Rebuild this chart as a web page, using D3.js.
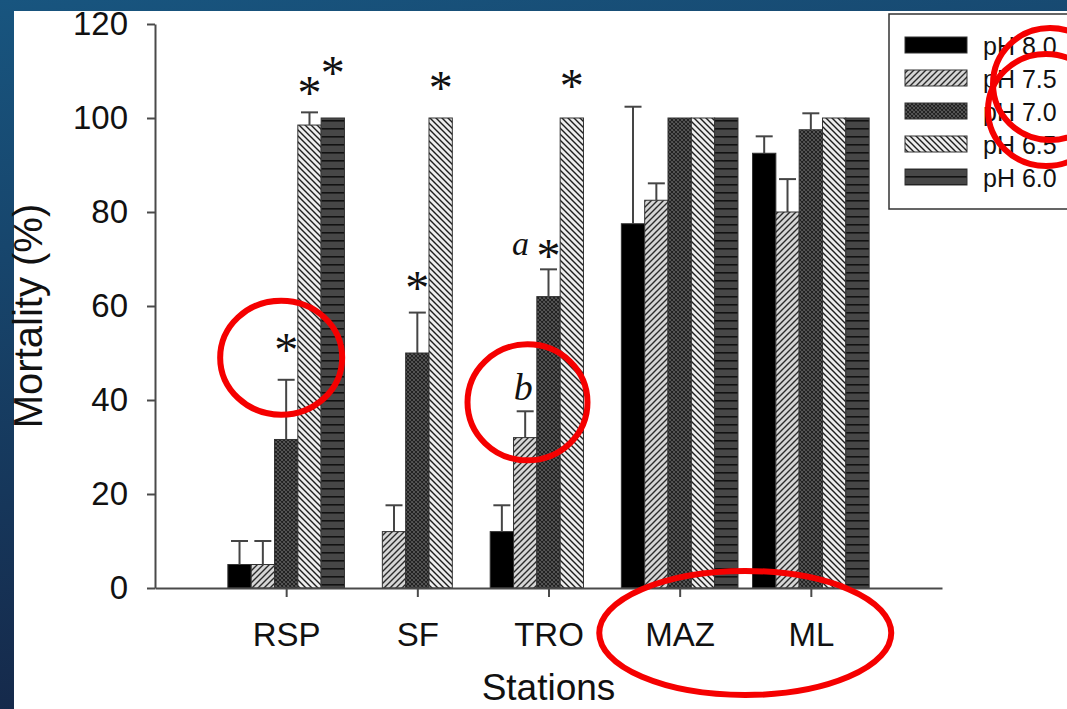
<!DOCTYPE html>
<html>
<head>
<meta charset="utf-8">
<script src="https://cdn.jsdelivr.net/npm/d3@7"></script>
<style>
  html, body { margin: 0; padding: 0; background: #ffffff; }
  svg { display: block; }
</style>
</head>
<body>
<svg id="chart" width="1067" height="709"></svg>
<script>
// Stations sampled and pH treatments
const stations = ["RSP", "SF", "TRO", "MAZ", "ML"];
const phLevels = ["pH 8.0", "pH 7.5", "pH 7.0", "pH 6.5", "pH 6.0"];

// Mean mortality (%) per treatment, one value per station (null = not tested)
const mortPH80 = [5, null, 12, 77.5, 92.5];
const mortPH75 = [5, 12, 32, 82.5, 80];
const mortPH70 = [31.6, 50, 62, 100, 97.5];
const mortPH65 = [98.5, 100, 100, 100, 100];
const mortPH60 = [100, null, null, 100, 100];

// Upper error (SD) per treatment
const errPH80 = [5, null, 5.6, 24.9, 3.6];
const errPH75 = [5, 5.6, 5.6, 3.6, 7];
const errPH70 = [12.7, 8.6, 5.8, 0, 3.5];
const errPH65 = [2.7, 0, 0, 0, 0];
const errPH60 = [0, null, null, 0, 0];

const yTicks = [0, 20, 40, 60, 80, 100, 120];

// Significance marks: station, treatment, text, level (% mortality at the mark's centre)
const marks = [
  { station: "RSP", ph: "pH 7.0", text: "*", level: 52.4 },
  { station: "RSP", ph: "pH 6.5", text: "*", level: 107 },
  { station: "RSP", ph: "pH 6.0", text: "*", level: 111.3 },
  { station: "SF",  ph: "pH 7.0", text: "*", level: 65.6 },
  { station: "SF",  ph: "pH 6.5", text: "*", level: 108 },
  { station: "TRO", ph: "pH 7.0", text: "*", level: 72.3 },
  { station: "TRO", ph: "pH 6.5", text: "*", level: 108.6 },
];
const letters = [
  { station: "TRO", ph: "pH 7.0", text: "a", base: 70.8, shift: -28, size: 34 },
  { station: "TRO", ph: "pH 7.5", text: "b", base: 39.9, shift: -2, size: 38 },
];

const series = [
  { key: "pH 8.0", values: mortPH80, errs: errPH80, fill: "#000000" },
  { key: "pH 7.5", values: mortPH75, errs: errPH75, fill: "url(#hatch75)" },
  { key: "pH 7.0", values: mortPH70, errs: errPH70, fill: "url(#cross70)" },
  { key: "pH 6.5", values: mortPH65, errs: errPH65, fill: "url(#hatch65)" },
  { key: "pH 6.0", values: mortPH60, errs: errPH60, fill: "url(#stripe60)" },
];

const W = 1067, H = 709;
const svg = d3.select("#chart");
const defs = svg.append("defs");

// Slide background
const bg = defs.append("linearGradient").attr("id", "slideBg")
  .attr("x1", "0").attr("y1", "0").attr("x2", "0.25").attr("y2", "1");
bg.append("stop").attr("offset", "0").attr("stop-color", "#18557f");
bg.append("stop").attr("offset", "1").attr("stop-color", "#152748");
svg.append("rect").attr("width", W).attr("height", H).attr("fill", "url(#slideBg)");
svg.append("rect").attr("x", 14).attr("y", 11).attr("width", W - 14).attr("height", H - 11).attr("fill", "#ffffff");

// Fill patterns
function pattern(id, size, bgColor) {
  const p = defs.append("pattern").attr("id", id)
    .attr("patternUnits", "userSpaceOnUse").attr("width", size).attr("height", size);
  p.append("rect").attr("width", size).attr("height", size).attr("fill", bgColor);
  return p;
}
pattern("hatch75", 6, "#d6d6d6").append("path")
  .attr("d", "M0,6L6,0M-1,1L1,-1M5,7L7,5").attr("stroke", "#2b2b2b").attr("stroke-width", 1.4);
pattern("hatch65", 6, "#ededed").append("path")
  .attr("d", "M0,0L6,6M-1,5L1,7M5,-1L7,1").attr("stroke", "#1e1e1e").attr("stroke-width", 1.4);
pattern("cross70", 4, "#777777").append("path")
  .attr("d", "M0,4L4,0M-1,1L1,-1M3,5L5,3M0,0L4,4M-1,3L1,5M3,-1L5,1")
  .attr("stroke", "#222222").attr("stroke-width", 1.3);
const st = pattern("stripe60", 8, "#474747");
st.append("rect").attr("y", 0).attr("width", 8).attr("height", 1.6).attr("fill", "#121212");

// Scales
const y = d3.scaleLinear().domain([0, 120]).range([588, 24]);
const x = d3.scalePoint().domain(stations).range([155, 942]).padding(1);
const groupW = x.step() * 0.889;
const inner = d3.scaleBand().domain(phLevels).range([-groupW / 2, groupW / 2]).paddingInner(0);

const FONT = "'Liberation Sans', Arial, Helvetica, sans-serif";
const SERIF = "'Liberation Serif', 'Times New Roman', serif";
const axisColor = "#4a4a4a";

// Bars
const plot = svg.append("g");
series.forEach(s => {
  const rows = stations.map((st, i) => ({ st, v: s.values[i], e: s.errs[i] })).filter(d => d.v != null);
  plot.append("g").selectAll("rect").data(rows).join("rect")
    .attr("x", d => x(d.st) + inner(s.key))
    .attr("y", d => y(d.v))
    .attr("width", inner.bandwidth())
    .attr("height", d => y(0) - y(d.v))
    .attr("fill", s.fill)
    .attr("stroke", "#333333").attr("stroke-width", 1);

  // Upper error bars
  const eg = plot.append("g").attr("stroke", "#454545").attr("stroke-width", 2).attr("fill", "none");
  rows.filter(d => d.e > 0).forEach(d => {
    const cx = x(d.st) + inner(s.key) + inner.bandwidth() / 2;
    eg.append("line").attr("x1", cx).attr("x2", cx).attr("y1", y(d.v)).attr("y2", y(d.v + d.e));
    eg.append("line").attr("x1", cx - 8.5).attr("x2", cx + 8.5).attr("y1", y(d.v + d.e)).attr("y2", y(d.v + d.e));
  });
});

// Y axis
const yAxis = svg.append("g").attr("transform", `translate(155,0)`)
  .call(d3.axisLeft(y).tickValues(yTicks).tickSize(8).tickPadding(19).tickSizeOuter(0));
yAxis.select(".domain").attr("stroke", axisColor).attr("stroke-width", 2);
yAxis.selectAll(".tick line").attr("stroke", axisColor).attr("stroke-width", 2);
yAxis.selectAll(".tick text").attr("font-family", FONT).attr("font-size", 33).attr("fill", "#111");

// X axis
const xAxis = svg.append("g").attr("transform", `translate(0,588)`)
  .call(d3.axisBottom(x).tickSize(9).tickPadding(24).tickSizeOuter(0));
xAxis.select(".domain").attr("stroke", axisColor).attr("stroke-width", 2);
xAxis.selectAll(".tick line").attr("stroke", axisColor).attr("stroke-width", 2);
xAxis.selectAll(".tick text").attr("font-family", FONT).attr("font-size", 33).attr("fill", "#111")
  .attr("dy", null).attr("y", 58);

// Axis titles
const xMid = (x.range()[0] + x.range()[1]) / 2;
svg.append("text").attr("x", xMid).attr("y", 700)
  .attr("text-anchor", "middle").attr("font-family", FONT).attr("font-size", 37).attr("fill", "#111")
  .text("Stations");
svg.append("text").attr("transform", "translate(42,316) rotate(-90)")
  .attr("text-anchor", "middle").attr("font-family", FONT).attr("font-size", 40).attr("fill", "#111")
  .text("Mortality (%)");

// Significance asterisks and letters
const ann = svg.append("g").attr("font-family", SERIF).attr("fill", "#111").attr("text-anchor", "middle");
marks.forEach(m => {
  ann.append("text")
    .attr("x", x(m.station) + inner(m.ph) + inner.bandwidth() / 2)
    .attr("y", y(m.level) + 24)
    .attr("font-size", 48).text(m.text);
});
letters.forEach(m => {
  ann.append("text")
    .attr("x", x(m.station) + inner(m.ph) + inner.bandwidth() / 2 + m.shift)
    .attr("y", y(m.base))
    .attr("font-size", m.size).attr("font-style", "italic").text(m.text);
});

// Legend
const lg = svg.append("g");
lg.append("rect").attr("x", 889).attr("y", 14).attr("width", 200).attr("height", 195)
  .attr("fill", "#ffffff").attr("stroke", "#333").attr("stroke-width", 1.5);
series.forEach((s, i) => {
  const base = 55 + i * 33;
  lg.append("rect").attr("x", 905).attr("y", base - 18).attr("width", 62).attr("height", 16)
    .attr("fill", s.fill).attr("stroke", "#333").attr("stroke-width", 1);
  lg.append("text").attr("x", 983).attr("y", base).attr("font-family", FONT).attr("font-size", 25)
    .attr("fill", "#111").text(s.key);
});

// Red highlight rings
const rings = [
  { cx: x("RSP") - 5, cy: y(49), rx: 61, ry: 57 },
  { cx: x("TRO") - 21, cy: y(39.5), rx: 60, ry: 58 },
  { cx: (x("MAZ") + x("ML")) / 2, cy: 633, rx: 146, ry: 62 },
  { cx: 1050, cy: 84, rx: 57, ry: 56 },
  { cx: 1046, cy: 110, rx: 58, ry: 56 },
];
svg.append("g").selectAll("ellipse").data(rings).join("ellipse")
  .attr("cx", d => d.cx).attr("cy", d => d.cy).attr("rx", d => d.rx).attr("ry", d => d.ry)
  .attr("fill", "none").attr("stroke", "#f50000").attr("stroke-width", 6);
</script>
</body>
</html>
